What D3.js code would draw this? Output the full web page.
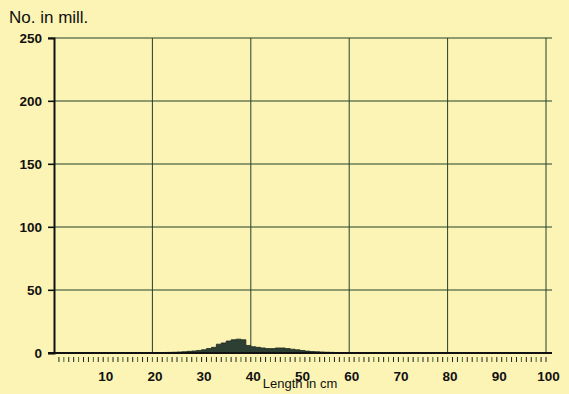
<!DOCTYPE html>
<html><head><meta charset="utf-8">
<script src="https://cdn.jsdelivr.net/npm/d3@7"></script>
<style>
html,body{margin:0;padding:0;background:#fcf4b4;}
svg{display:block;font-family:"Liberation Sans",Arial,sans-serif;}
</style></head>
<body>
<script>
// Length bins (cm, lower edge of 1-cm bin) and numbers in millions
const lengths = [18,19,20,21,22,23,24,25,26,27,28,29,30,31,32,33,34,35,36,37,38,39,40,41,42,43,44,45,46,47,48,49,50,51,52,53,54,55,56,57,58,59];
const numbers = [0.2,0.2,0.3,0.3,0.4,0.5,0.6,0.8,1.0,1.3,1.6,2.0,2.6,3.5,4.5,7,8,9.5,10.5,11,10.5,6,5,4.5,4,3.5,3.5,4,4,3.5,3,2.5,2,1.5,1.2,1,0.8,0.6,0.5,0.4,0.3,0.2];
const xTicks = [10,20,30,40,50,60,70,80,90,100];
const yTicks = [0,50,100,150,200,250];
const xGrid = [20,40,60,80,100];

const W=569,H=394;
const m={l:54,r:23,t:38,b:41};
const svg=d3.select("body").append("svg").attr("width",W).attr("height",H);
svg.append("rect").attr("width",W).attr("height",H).attr("fill","#fcf4b4");

const x=d3.scaleLinear().domain([0,100]).range([m.l,W-m.r]);
const y=d3.scaleLinear().domain([0,250]).range([H-m.b,m.t]);

// horizontal grid
svg.append("g").selectAll("line").data(yTicks.filter(d=>d>0)).join("line")
  .attr("x1",x(0)-6).attr("x2",x(100)+6).attr("y1",d=>y(d)).attr("y2",d=>y(d))
  .attr("stroke","#24402a").attr("stroke-width",1.1);
// vertical grid
svg.append("g").selectAll("line").data(xGrid).join("line")
  .attr("x1",d=>x(d)).attr("x2",d=>x(d)).attr("y1",y(250)).attr("y2",y(0))
  .attr("stroke","#24402a").attr("stroke-width",1);

// histogram (step area)
const pts=[];
lengths.forEach((l,i)=>{pts.push([l,numbers[i]]);pts.push([l+1,numbers[i]]);});
const area=d3.area().x(d=>x(d[0])).y0(y(0)).y1(d=>y(d[1]));
svg.append("path").datum(pts).attr("d",area).attr("fill","#2d3e33").attr("stroke","#1e2a22").attr("stroke-width",0.8);

// y axis
const yAxis=d3.axisLeft(y).tickValues(yTicks).tickSize(6).tickPadding(6);
const gy=svg.append("g").attr("transform",`translate(${m.l},0)`).call(yAxis);
gy.select(".domain").attr("stroke","#111").attr("stroke-width",2);
gy.selectAll(".tick line").attr("stroke","#111").attr("stroke-width",1.2);
gy.selectAll("text").attr("font-size",13.5).attr("font-weight","bold").attr("fill","#111").attr("font-family","Liberation Sans, Arial, sans-serif");

// x axis baseline
svg.append("line").attr("x1",x(0)-6).attr("x2",x(100)+6).attr("y1",y(0)).attr("y2",y(0))
  .attr("stroke","#111").attr("stroke-width",2);
// minor ticks every cm
svg.append("g").selectAll("line").data(d3.range(1,101)).join("line")
  .attr("x1",d=>x(d)).attr("x2",d=>x(d)).attr("y1",y(0)+4).attr("y2",y(0)+9)
  .attr("stroke",(d,i)=>i%3===1?"#3e6a2a":"#222").attr("stroke-width",1);
// x tick labels
const xAxis=d3.axisBottom(x).tickValues(xTicks).tickSize(0).tickPadding(18);
const gx=svg.append("g").attr("transform",`translate(2,${y(0)})`).call(xAxis);
gx.select(".domain").remove();
gx.selectAll("text").attr("font-size",13.5).attr("font-weight","bold").attr("fill","#111").attr("font-family","Liberation Sans, Arial, sans-serif");

// titles
svg.append("text").attr("x",9).attr("y",23).text("No. in mill.")
  .attr("font-size",17).attr("fill","#111");
svg.append("text").attr("x",x(50)).attr("y",388).attr("text-anchor","middle").text("Length in cm")
  .attr("font-size",13).attr("fill","#111");
</script>
</body></html>
